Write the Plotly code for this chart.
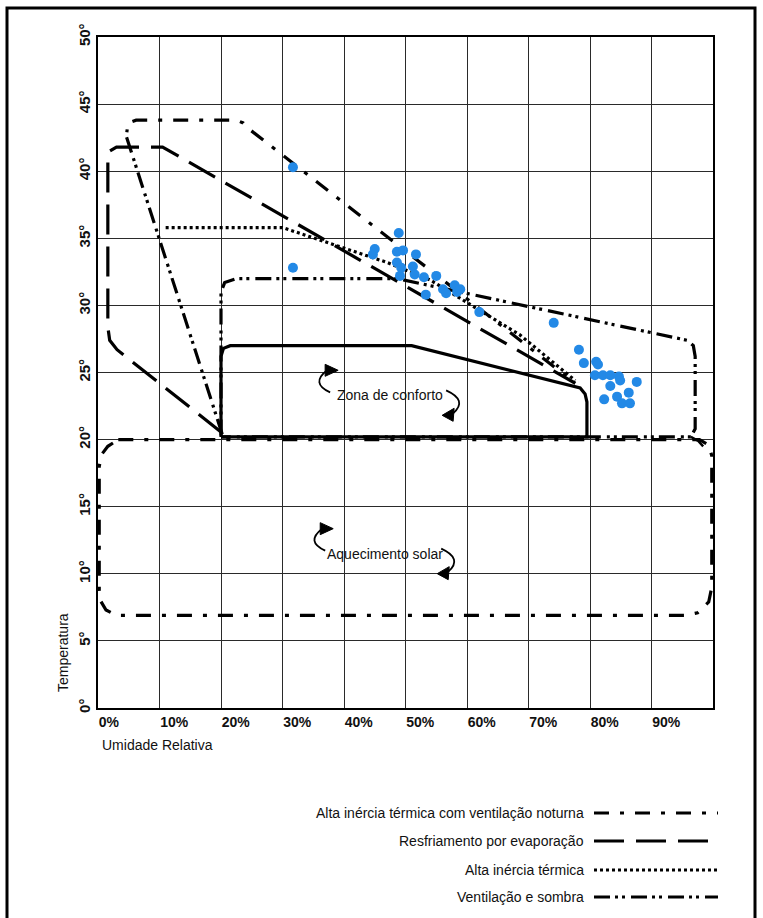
import plotly.graph_objects as go

# ---------------- data ----------------
rh_ticks = [0, 10, 20, 30, 40, 50, 60, 70, 80, 90, 100]
rh_labels = ["0%", "10%", "20%", "30%", "40%", "50%", "60%", "70%", "80%", "90%", ""]
t_ticks = [0, 5, 10, 15, 20, 25, 30, 35, 40, 45, 50]
t_labels = ["0°", "5°", "10°", "15°", "20°", "25°", "30°", "35°", "40°", "45°", "50°"]

# Zona de conforto (solid)
conforto_rh = [20, 20, 20.4, 21.5, 51, 78.4, 79.2, 79.5, 79.5, 20]
conforto_t = [20.2, 26.2, 26.8, 27.0, 27.0, 23.85, 23.4, 22.8, 20.2, 20.2]

# Resfriamento por evaporação (dashed)
evap_rh = [20.2, 3.1, 1.9, 1.6, 1.6, 1.9, 3.0, 10.5, 77.6]
evap_t = [20.5, 26.7, 27.4, 28.4, 40.8, 41.5, 41.8, 41.8, 24.2]

# Alta inércia térmica com ventilação noturna (dash-dot)
noturna_rh = [5.6, 6.2, 22.5, 23.6, 24.4, 77.6]
noturna_t = [43.7, 43.8, 43.8, 43.6, 43.2, 24.2]
noturna_esq_rh = [20.2, 4.6, 4.8]
noturna_esq_t = [20.4, 42.6, 43.3]

# Alta inércia térmica (dotted)
inercia_rh = [11.0, 30.0, 47.0, 54.0, 68.6, 77.6]
inercia_t = [35.8, 35.8, 33.2, 31.9, 27.8, 24.4]

# Ventilação e sombra (dash-dot-dot)
vent_rh = [20, 20, 20.6, 22.5, 48.6, 95.8, 96.8, 97.1, 97.1, 96.4, 20]
vent_t = [20.3, 31.0, 31.7, 32.0, 32.0, 27.4, 27.0, 26.2, 20.8, 20.2, 20.2]
vent_gancho_rh = [96.4, 97.6, 98.4]
vent_gancho_t = [20.2, 19.9, 19.5]

# Aquecimento solar (dash-dot)
solar_rh = [3.3, 97.8, 99.3, 99.8, 99.8, 99.3, 97.5, 95.5, 3.0, 1.3, 0.4, 0.2, 0.2, 0.6, 1.6, 3.3]
solar_t = [20.0, 20.0, 19.6, 18.8, 9.0, 7.9, 7.1, 6.9, 6.9, 7.3, 8.0, 8.8, 18.0, 18.9, 19.5, 20.0]

# Dados medidos (pontos azuis)
pts_rh = [31.7, 31.7, 48.9, 45.0, 44.7, 48.6, 49.6, 51.7, 48.6, 49.3, 49.1, 51.2, 51.5,
          53.0, 55.0, 53.3, 56.1, 56.6, 58.0, 58.4, 58.9, 62.0,
          74.1, 78.2, 79.0, 81.0, 81.3, 80.8, 82.1, 83.3, 84.7, 84.9, 83.3, 87.6,
          82.3, 84.4, 86.3, 85.2, 86.5]
pts_t = [40.3, 32.8, 35.4, 34.2, 33.8, 34.0, 34.1, 33.8, 33.2, 32.8, 32.2, 32.9, 32.3,
         32.1, 32.2, 30.8, 31.2, 30.9, 31.5, 31.0, 31.2, 29.5,
         28.7, 26.7, 25.7, 25.8, 25.6, 24.8, 24.8, 24.8, 24.7, 24.4, 24.0, 24.3,
         23.0, 23.2, 23.5, 22.7, 22.7]

legend_names = ["Alta inércia térmica com ventilação noturna",
                "Resfriamento por evaporação",
                "Alta inércia térmica",
                "Ventilação e sombra"]

# ---------------- styles ----------------
DASHDOT = "15px,11px,4px,11px"
DASHED = "30px,12px"
DOTTED = "3px,3px"
DASHDOTDOT = "16px,5px,3px,4px,3px,6px"
legend_dashes = [DASHDOT, DASHED, DOTTED, DASHDOTDOT]
LW = 3.2
FONT = "Liberation Sans, Arial, sans-serif"

W, H = 763, 918
L, R, T, B = 98, 50, 37, 210
PW, PH = W - L - R, H - T - B


def px(xp):
    return (xp - L) / PW


def py(yp):
    return (H - B - yp) / PH


fig = go.Figure()


def line(xs, ys, dash, width=LW):
    fig.add_trace(go.Scatter(x=xs, y=ys, mode="lines", hoverinfo="skip",
                             line=dict(color="black", width=width, dash=dash),
                             showlegend=False))


line(solar_rh, solar_t, DASHDOT)
line(vent_rh, vent_t, DASHDOTDOT)
line(vent_gancho_rh, vent_gancho_t, "solid", 2.5)
line(noturna_esq_rh, noturna_esq_t, DASHDOTDOT)
line(noturna_rh, noturna_t, DASHDOT)
line(evap_rh, evap_t, DASHED)
line(inercia_rh, inercia_t, DOTTED)
line(conforto_rh, conforto_t, "solid")

fig.add_trace(go.Scatter(x=pts_rh, y=pts_t, mode="markers", hoverinfo="skip",
                         marker=dict(color="#2389e6", size=10), showlegend=False))

shapes = []
annotations = []

# zone labels with curved arrows
zone_labels = [("Zona de conforto", 47.5, 23.3), ("Aquecimento solar", 46.7, 11.5)]
for text, xa, ya in zone_labels:
    annotations.append(dict(x=xa, y=ya, xref="x", yref="y", text=text, showarrow=False,
                            font=dict(family=FONT, size=14, color="#111")))
    common = dict(xref="x", yref="y", xsizemode="pixel", ysizemode="pixel",
                  xanchor=xa, yanchor=ya, layer="above")
    shapes.append(dict(type="path", path="M -60 3 Q -80 12 -63 25",
                       line=dict(color="black", width=1.8), **common))
    shapes.append(dict(type="path", path="M -65 31 L -52 25 L -65 19 Z",
                       fillcolor="black", line=dict(color="black", width=1), **common))
    shapes.append(dict(type="path", path="M 56 5 Q 78 -5 63 -18",
                       line=dict(color="black", width=1.8), **common))
    shapes.append(dict(type="path", path="M 64 -13 L 52 -20 L 63 -26 Z",
                       fillcolor="black", line=dict(color="black", width=1), **common))

# manual legend
legend_y = [813, 841, 870, 897]
for name, yy, dash in zip(legend_names, legend_y, legend_dashes):
    annotations.append(dict(x=px(586), y=py(yy), xref="paper", yref="paper", text=name,
                            showarrow=False, xanchor="right", yanchor="middle",
                            font=dict(family=FONT, size=14, color="#111")))
    shapes.append(dict(type="line", xref="paper", yref="paper",
                       x0=px(594), x1=px(718), y0=py(yy), y1=py(yy),
                       line=dict(color="black", width=3, dash=dash)))

# axis titles
annotations.append(dict(x=px(100), y=py(745), xref="paper", yref="paper", text="Umidade Relativa",
                        showarrow=False, xanchor="left", yanchor="middle",
                        font=dict(family=FONT, size=14, color="#111")))
annotations.append(dict(x=px(63), y=py(653), xref="paper", yref="paper", text="Temperatura",
                        showarrow=False, textangle=-90, xanchor="center", yanchor="middle",
                        font=dict(family=FONT, size=14, color="#111")))

# outer frame
shapes.append(dict(type="rect", xref="paper", yref="paper", x0=px(7), x1=px(755),
                   y0=py(930), y1=py(8), line=dict(color="black", width=3), layer="above"))

fig.update_layout(
    width=W, height=H, margin=dict(l=L, r=R, t=T, b=B),
    paper_bgcolor="white", plot_bgcolor="white",
    shapes=shapes, annotations=annotations, showlegend=False,
    xaxis=dict(range=[0, 100], tickvals=rh_ticks, ticktext=rh_labels,
               ticklabelposition="outside right",
               showgrid=True, gridcolor="#2a2a2a", gridwidth=1.3,
               showline=True, linecolor="black", linewidth=1.6, mirror=True,
               zeroline=False, ticks="",
               tickfont=dict(family=FONT, size=14, color="#111", weight="bold")),
    yaxis=dict(range=[0, 50], tickvals=t_ticks, ticktext=t_labels, tickangle=-90,
               showgrid=True, gridcolor="#2a2a2a", gridwidth=1.3,
               showline=True, linecolor="black", linewidth=1.6, mirror=True,
               zeroline=False, ticks="",
               tickfont=dict(family=FONT, size=15, color="#111", weight="bold")),
)

fig.write_html("out.html")
